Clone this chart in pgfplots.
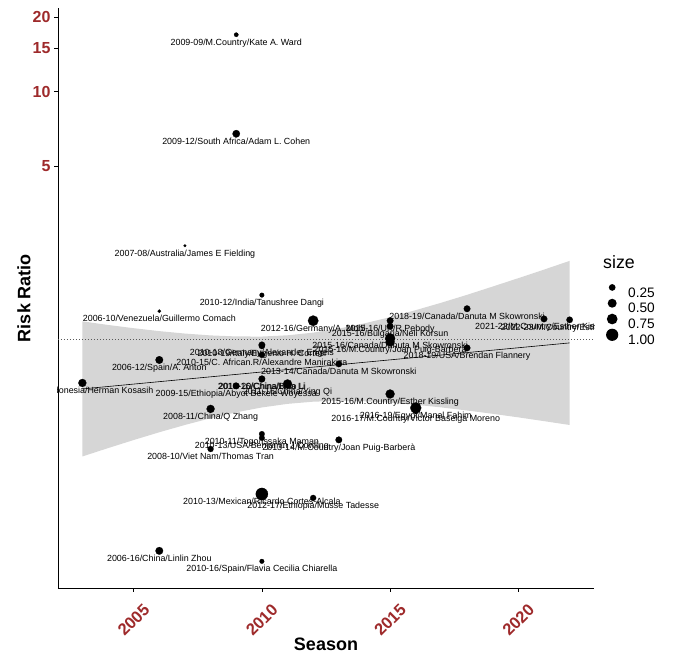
\documentclass[border=0pt]{standalone}
\usepackage{fontspec}
\setmainfont{Liberation Sans}
\usepackage{pgfplots}
\pgfplotsset{compat=1.18}
\usepackage{pgfplotstable}
\definecolor{tickred}{RGB}{158,42,43}
\definecolor{bandgray}{RGB}{214,214,214}

\pgfplotstableread[col sep=comma]{
x,y,size,label
2009,17.0,0.08,2009-09/M.Country/Kate A. Ward
2009,6.77,0.32,2009-12/South Africa/Adam L. Cohen
2007,2.39,0.02,2007-08/Australia/James E Fielding
2010,1.51,0.10,2010-12/India/Tanushree Dangi
2006,1.30,0.04,2006-10/Venezuela/Guillermo Comach
2012,1.19,0.70,2012-16/Germany/A. Mohl
2015,1.19,0.24,2015-16/UK/R Pebody
2015,1.13,0.24,2015-16/Bulgaria/Neli Korsun
2015,1.01,0.64,2015-16/Canada/Danuta M Skowronski
2015,0.977,0.50,2015-16/M.Country/Joan Puig-Barberà
2018,1.33,0.24,2018-19/Canada/Danuta M Skowronski
2018,0.924,0.24,2018-19/USA/Brendan Flannery
2021,1.21,0.24,2021-22/M.Country/Esther Kissling
2022,1.20,0.22,2022-23/M.Country/Esther Kissling
2006,0.826,0.34,2006-12/Spain/A. Anton
2010,0.866,0.19,2010-15/C. African.R/Alexandre Manirakiza
2010,0.95,0.24,2010-18/Germany/Alexander Engels
2010,0.94,0.19,2010-19/Italy/Eugenio H. Cortesi
2013,0.796,0.22,2013-14/Canada/Danuta M Skowronski
2003,0.667,0.38,2003-07/Indonesia/Herman Kosasih
2009,0.649,0.24,2009-15/Ethiopia/Abyot Bekele Woyessa
2010,0.693,0.24,2010-16/China/Biao Li
2010,0.69,0.19,2010-20/China/Hua Li
2011,0.661,0.50,2011-16/China/Ying Qi
2008,0.524,0.38,2008-11/China/Q Zhang
2010,0.415,0.16,2010-11/Togo/Issaka Maman
2010,0.40,0.16,2010-13/USA/Benjamin J Cowling
2013,0.393,0.24,2013-14/M.Country/Joan Puig-Barberà
2008,0.361,0.19,2008-10/Viet Nam/Thomas Tran
2010,0.2375,1.00,2010-13/Mexican/Ricardo Cortes-Alcala
2012,0.229,0.19,2012-17/Ethiopia/Musse Tadesse
2006,0.140,0.34,2006-16/China/Linlin Zhou
2010,0.127,0.10,2010-16/Spain/Flavia Cecilia Chiarella
2015,0.602,0.50,2015-16/M.Country/Esther Kissling
2016,0.514,0.19,2016-17/M.Country/Victor Baselga Moreno
2016,0.529,0.79,2016-19/Egypt/Manal Fahim
}\pts

\begin{document}
\begin{tikzpicture}
\useasboundingbox (-58pt,-67pt) rectangle (617pt,588pt);
\begin{axis}[
  at={(0pt,0pt)}, anchor=south west,
  scale only axis, width=536pt, height=580pt,
  xmin=2002.05, xmax=2022.95,
  ymode=log, ymin=0.0991, ymax=21.8,
  axis x line=bottom, axis y line=left,
  axis line style={-, line width=0.75pt, black},
  tick align=outside, major tick length=4pt,
  tick style={line width=0.75pt, black},
  minor tick num=0, yminorticks=false,
  xtick={2005,2010,2015,2020}, xticklabels={2005,2010,2015,2020},
  ytick={5,10,15,20}, yticklabels={5,10,15,20},
  /pgf/number format/assume math mode=true,
  xticklabel style={font=\fontsize{16.5}{16.5}\selectfont\bfseries, text=tickred, yshift=-28pt, rotate=45, anchor=center},
  yticklabel style={font=\fontsize{16}{16}\selectfont\bfseries, text=tickred},
  xlabel={Season}, ylabel={Risk Ratio},
  label style={font=\fontsize{18}{18}\selectfont\bfseries},
  xlabel style={at={(axis description cs:0.5,-0.1086)}, anchor=base},
  ylabel style={at={(axis description cs:-0.0634,0.5)}, anchor=center},
  legend style={at={(axis description cs:1.02201,0.52905)}, anchor=north west,
    draw=none, fill=none, inner sep=0pt, row sep=0pt, column sep=9.8pt,
    font=\fontsize{13.7}{14}\selectfont, nodes={inner sep=0pt, text depth=0pt}},
  legend cell align=left,
]
\addplot[fill=bandgray, draw=none, forget plot] coordinates {
(2003,1.183) (2004,1.144) (2005,1.110) (2006,1.080) (2007,1.056) (2008,1.038)
(2009,1.028) (2010,1.027) (2011,1.039) (2012,1.065) (2013,1.106) (2014,1.161)
(2015,1.230) (2016,1.313) (2017,1.407) (2018,1.514) (2019,1.635) (2020,1.768)
(2021,1.914) (2022,2.076)
(2022,0.4512) (2021,0.4677) (2020,0.4844) (2019,0.5007) (2018,0.5164) (2017,0.5313)
(2016,0.5447) (2015,0.5553) (2014,0.5627) (2013,0.5646) (2012,0.5604) (2011,0.5492)
(2010,0.5311) (2009,0.5077) (2008,0.4805) (2007,0.4514) (2006,0.4217) (2005,0.3924)
(2004,0.3639) (2003,0.3367)} -- cycle;
\addplot[black, line width=0.6pt, forget plot] coordinates {(2003,0.631) (2022,0.968)};
\addplot[gray!70!black, line width=0.6pt, dash pattern=on 0.8pt off 2.2pt, forget plot]
  coordinates {(2002.05,1) (2022.95,1)};
\addplot[scatter, only marks, mark=*, forget plot,
  scatter/use mapped color={draw=black, fill=black},
  mark options={line width=0.2pt},
  point meta=\thisrow{size},
  visualization depends on={0.6+5.5*sqrt(\thisrow{size}) \as \msize},
  scatter/@pre marker code/.append style={/tikz/mark size=\msize}]
  table[x=x, y=y] {\pts};
\addplot[only marks, mark=none, forget plot, clip marker paths=true,
  nodes near coords, point meta=explicit symbolic,
  every node near coord/.style={anchor=base, yshift=-10.5pt, inner sep=0pt,
    font=\fontsize{8.9}{10}\selectfont, text=black}]
  table[x=x, y=y, meta=label] {\pts};
\addlegendimage{legend image code/.code={\path[draw=none,fill=none] (-6.2pt,-2.95pt) rectangle (6.2pt,11.0pt); \fill[black,draw=none] (0pt,4.9pt) circle (3.35pt);}}
\addlegendentry{0.25}
\addlegendimage{legend image code/.code={\path[draw=none,fill=none] (-6.2pt,-2.95pt) rectangle (6.2pt,11.0pt); \fill[black,draw=none] (0pt,4.9pt) circle (4.49pt);}}
\addlegendentry{0.50}
\addlegendimage{legend image code/.code={\path[draw=none,fill=none] (-6.2pt,-2.95pt) rectangle (6.2pt,11.0pt); \fill[black,draw=none] (0pt,4.9pt) circle (5.36pt);}}
\addlegendentry{0.75}
\addlegendimage{legend image code/.code={\path[draw=none,fill=none] (-6.2pt,-2.95pt) rectangle (6.2pt,11.0pt); \fill[black,draw=none] (0pt,4.9pt) circle (6.1pt);}}
\addlegendentry{1.00}
\end{axis}
\node[anchor=base west, font=\fontsize{17.8}{18}\selectfont, inner sep=0pt] at (545pt,319pt) {size};
\end{tikzpicture}
\end{document}
